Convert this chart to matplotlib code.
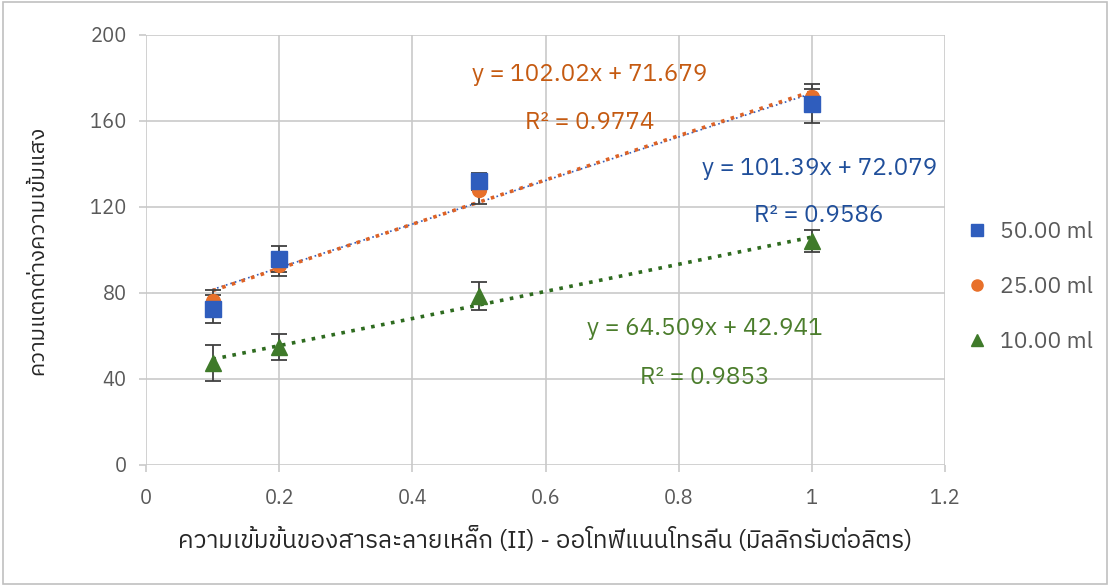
import numpy as np
import matplotlib.pyplot as plt
from matplotlib import font_manager
from matplotlib.patches import Rectangle

# data
x = [0.1, 0.2, 0.5, 1.0]
y_50 = [72.6, 95.8, 132.0, 168.0]
y_25 = [76.5, 93.0, 128.0, 171.0]
y_10 = [47.4, 54.9, 78.6, 104.2]
err_50 = [6.5, 6.0, 4.0, 9.0]
err_25 = [5.0, 5.0, 6.5, 4.0]
err_10 = [8.2, 6.0, 6.7, 4.9]
labels = ['50.00 ml', '25.00 ml', '10.00 ml']
eq_text = ['y = 101.39x + 72.079', 'y = 102.02x + 71.679', 'y = 64.509x + 42.941']
r2_text = ['R² = 0.9586', 'R² = 0.9774', 'R² = 0.9853']
xlabel = 'ความเข้มข้นของสารละลายเหล็ก (II) - ออโทฟีแนนโทรลีน (มิลลิกรัมต่อลิตร)'
ylabel = 'ความแตกต่างความเข้มแสง'

# pick a font that has Thai glyphs, if any is installed
thai_font = None
for f in font_manager.fontManager.ttflist:
    if 'Thai' in f.name:
        thai_font = f.name
        break
fams = ([thai_font] if thai_font else []) + ['Noto Sans', 'DejaVu Sans']
plt.rcParams['font.family'] = fams

fig = plt.figure(figsize=(11.1, 5.86), dpi=100)
ax = fig.add_axes([146 / 1110, 1 - 465 / 586, 799 / 1110, 430 / 586])

grid_c = '#c9c9c9'
ax.set_xlim(0, 1.2)
ax.set_ylim(0, 200)
ax.set_xticks(np.arange(0, 1.21, 0.2))
ax.set_xticklabels(['0', '0.2', '0.4', '0.6', '0.8', '1', '1.2'])
ax.set_yticks(range(0, 201, 40))
ax.grid(True, color=grid_c, linewidth=1.2)
for s in ax.spines.values():
    s.set_visible(False)
ax.tick_params(colors=grid_c, labelcolor='#595959', labelsize=14.5, length=5, width=1.2)
ax.tick_params(axis='x', pad=12)
ax.tick_params(axis='y', pad=9)

series = [
    (y_50, err_50, 's', '#2f5dbd'),
    (y_25, err_25, 'o', '#e8702a'),
    (y_10, err_10, '^', '#3f7a2a'),
]
xs = np.array(x)
line_colors = ['#2f5dbd', '#dd6226', '#2e6b1f']
for i, (ys, es, m, c) in enumerate(series):
    k, b = np.polyfit(xs, ys, 1)
    ax.plot(xs[[0, -1]], k * xs[[0, -1]] + b, linestyle=(0, (1, 1.8)), color=line_colors[i],
            linewidth=2.6 if i != 0 else 1.2, zorder=2 + i)
for i, (ys, es, m, c) in enumerate(series):
    ax.errorbar(x, ys, yerr=es, fmt='none', ecolor='#404040', elinewidth=1.3,
                capsize=6, capthick=1.3, zorder=5)
    ax.plot(x, ys, m, color=c, markersize=11 if m != 'o' else 10, label=labels[i],
            linestyle='none', zorder=6 + (2 - i))

text_colors = ['#1f4e9a', '#c55a11', '#4b7d2c']
eq_pos = [(1.011, 138), (0.666, 181.5), (0.839, 63.5)]
r2_pos = [(1.011, 116), (0.666, 159.5), (0.839, 40.5)]
for i in range(3):
    ax.text(*eq_pos[i], eq_text[i], color=text_colors[i], fontsize=17.5, ha='center',
            va='center', zorder=10)
    ax.text(*r2_pos[i], r2_text[i], color=text_colors[i], fontsize=17.5, ha='center',
            va='center', zorder=10)

ax.set_xlabel(xlabel, fontsize=17.5, color='#262626', labelpad=14)
ax.set_ylabel(ylabel, fontsize=16, color='#262626', labelpad=30)

leg = ax.legend(loc='center left', bbox_to_anchor=(0.997, 0.414), frameon=False,
                fontsize=16.5, labelcolor='#595959', labelspacing=1.45, handletextpad=0.4,
                handlelength=1.2, markerscale=0.8)

fig.patches.append(Rectangle((0.003, 0.003), 0.994, 0.994, transform=fig.transFigure,
                             fill=False, edgecolor='#c0c0c0', linewidth=1.2))

fig.savefig('out.png', dpi=100)
